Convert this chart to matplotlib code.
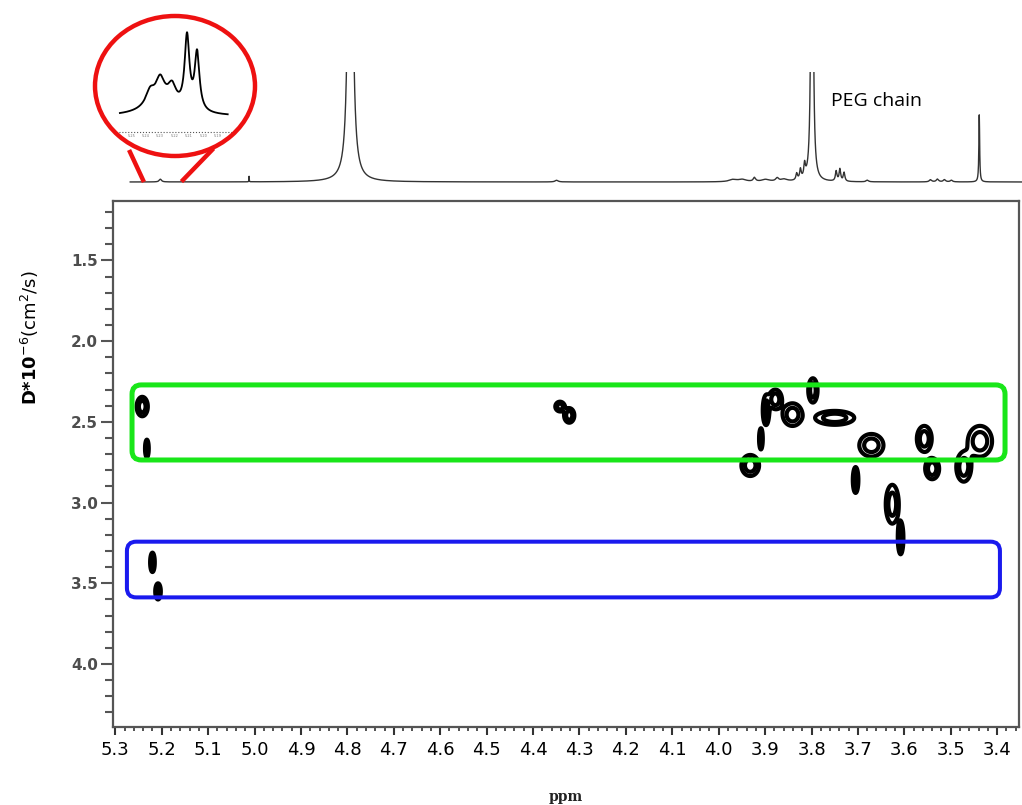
import numpy as np
import matplotlib
matplotlib.use("Agg")
import matplotlib.pyplot as plt
from matplotlib.patches import Ellipse, FancyBboxPatch
from matplotlib.lines import Line2D
from matplotlib.ticker import MultipleLocator, FixedLocator

plt.rcParams['mathtext.fontset'] = 'dejavusans'

# --- 1D proton spectrum (peak list) ---
spec_ppm = [4.794, 3.800, 3.440, 3.833, 3.825, 3.816, 3.748, 3.740, 3.731,
            3.924, 3.970, 3.950, 3.900, 3.875, 3.860, 3.681,
            3.545, 3.530, 3.515, 3.500, 4.350, 5.203, 5.012]
spec_height = [8.0, 8.0, 0.61, 0.06, 0.09, 0.12, 0.09, 0.11, 0.08,
               0.035, 0.02, 0.02, 0.02, 0.03, 0.02, 0.015,
               0.02, 0.025, 0.02, 0.015, 0.015, 0.025, 0.05]
spec_hwhm = [0.0032, 0.0015, 0.001, 0.002, 0.002, 0.002, 0.002, 0.002, 0.002,
             0.003, 0.01, 0.01, 0.01, 0.004, 0.008, 0.003,
             0.003, 0.003, 0.003, 0.003, 0.004, 0.003, 0.0004]

# --- zoomed multiplet near 5.2 ppm (inset) ---
ins_ppm = [5.2113, 5.2043, 5.2300, 5.2217, 5.2370, 5.2300]
ins_height = [0.78, 0.62, 0.22, 0.20, 0.14, 0.16]
ins_hwhm = [0.0020, 0.0020, 0.0035, 0.0035, 0.0035, 0.012]
ins_ticks = [5.25, 5.24, 5.23, 5.22, 5.21, 5.20, 5.19]

# --- DOSY cross peaks: chemical shift, diffusion coefficient, half extents ---
dosy_ppm = [5.242, 5.232, 5.220, 5.208, 4.342, 4.322, 3.909, 3.932, 3.898,
            3.878, 3.841, 3.797, 3.750, 3.671, 3.705, 3.626, 3.608, 3.557,
            3.540, 3.472, 3.437]
dosy_D = [2.405, 2.665, 3.37, 3.55, 2.405, 2.46, 2.605, 2.77, 2.43,
          2.36, 2.455, 2.305, 2.475, 2.645, 2.86, 3.01, 3.22, 2.605,
          2.79, 2.78, 2.62]
dosy_hppm = [0.012, 0.004, 0.005, 0.006, 0.010, 0.011, 0.004, 0.019, 0.007,
             0.014, 0.021, 0.010, 0.042, 0.026, 0.006, 0.014, 0.006, 0.016,
             0.015, 0.016, 0.026]
dosy_hD = [0.06, 0.055, 0.06, 0.05, 0.03, 0.045, 0.065, 0.065, 0.09,
           0.06, 0.07, 0.075, 0.043, 0.07, 0.08, 0.12, 0.10, 0.08,
           0.065, 0.09, 0.095]

x_ticks = [5.3, 5.2, 5.1, 5.0, 4.9, 4.8, 4.7, 4.6, 4.5, 4.4, 4.3, 4.2, 4.1,
           4.0, 3.9, 3.8, 3.7, 3.6, 3.5, 3.4]
y_ticks = [1.5, 2.0, 2.5, 3.0, 3.5, 4.0]

W, H = 1022, 805


def pos(x0, y0, x1, y1):
    return [x0 / W, 1 - y1 / H, (x1 - x0) / W, (y1 - y0) / H]


def lorentz(x, centers, heights, widths):
    y = np.zeros_like(x)
    for c, h, w in zip(centers, heights, widths):
        y += h * w ** 2 / ((x - c) ** 2 + w ** 2)
    return y


fig = plt.figure(figsize=(W / 100, H / 100), dpi=100)

# main DOSY panel
ax = fig.add_axes(pos(113, 200.7, 1018.5, 726.7))
ax.set_xlim(5.305, 3.354)
ax.set_ylim(4.388, 1.13)

gx = np.arange(3.34, 5.31, 0.001)
gy = np.arange(1.1, 4.4, 0.004)
X, Y = np.meshgrid(gx, gy)
Z = np.zeros_like(X)
for c, d, hx, hy in zip(dosy_ppm, dosy_D, dosy_hppm, dosy_hD):
    sx, sy = hx / 1.55, hy / 1.55
    Z += np.exp(-0.5 * (((X - c) / sx) ** 2 + ((Y - d) / sy) ** 2))
ax.contour(X, Y, Z, levels=[0.3, 0.65], colors='black', linewidths=3.0)

aspect = 464.4 / 161.4
green = FancyBboxPatch((3.383, 2.271), 5.264 - 3.383, 2.736 - 2.271,
                       boxstyle="round,pad=0,rounding_size=0.02",
                       mutation_aspect=aspect, fill=False,
                       ec='#19e619', lw=3.6, zorder=5)
blue = FancyBboxPatch((3.394, 3.242), 5.275 - 3.394, 3.587 - 3.242,
                      boxstyle="round,pad=0,rounding_size=0.02",
                      mutation_aspect=aspect, fill=False,
                      ec='#1a1aee', lw=2.9, zorder=5)
ax.add_patch(green)
ax.add_patch(blue)

for s in ['top', 'right', 'bottom', 'left']:
    ax.spines[s].set_color('#555555')
    ax.spines[s].set_linewidth(1.6)

ax.xaxis.set_major_locator(FixedLocator(x_ticks))
ax.xaxis.set_minor_locator(MultipleLocator(0.02))
ax.set_xticklabels([f"{t:.1f}" for t in x_ticks], fontsize=13)
ax.yaxis.set_major_locator(FixedLocator(y_ticks))
ax.yaxis.set_minor_locator(MultipleLocator(0.1))
ax.set_yticklabels([f"{t:.1f}" for t in y_ticks], fontsize=11,
                   fontweight='bold', color='#4d4d4d')
ax.tick_params(axis='x', which='major', direction='out', length=5.5,
               width=1.5, color='#333333', pad=5)
ax.tick_params(axis='x', which='minor', direction='out', length=3,
               width=1.2, color='#333333')
ax.tick_params(axis='y', which='major', direction='out', length=9,
               width=1.5, color='#555555', pad=2)
ax.tick_params(axis='y', which='minor', direction='out', length=5.5,
               width=1.5, color='#555555')

ax.set_xlabel('ppm', fontsize=10, family='DejaVu Serif', fontweight='bold',
              labelpad=22, color='#222222')
ax.set_ylabel(r'$\mathbf{D{*}10}^{-6}$(cm$^{2}$/s)', fontsize=13)
ax.yaxis.set_label_coords(-0.08, 0.74)

# 1D spectrum on top
ax_s = fig.add_axes(pos(113, 72, 1022, 192))
ax_s.set_xlim(5.305, 3.348)
ax_s.set_ylim(-10 / 110, 1.0)
sx = np.arange(3.348, 5.268, 0.0001)
ax_s.plot(sx, lorentz(sx, spec_ppm, spec_height, spec_hwhm),
          color='#333333', lw=1.0)
ax_s.axis('off')
ax_s.text(3.76, 0.74, 'PEG chain', fontsize=14, family='Open Sans',
          ha='left', va='center')

# zoomed inset inside the red circle
ax_i = fig.add_axes(pos(113, 20, 232, 135))
ax_i.set_xlim(5.2628, 5.1800)
ax_i.set_ylim(-0.16, 1.075)
ix = np.arange(5.183, 5.258, 0.00005)
ax_i.plot(ix, lorentz(ix, ins_ppm, ins_height, ins_hwhm) + 0.04,
          color='black', lw=1.3)
ax_i.axhline(-0.13, color='#555555', lw=0.8, ls=':')
for t in ins_ticks:
    ax_i.text(t, -0.15, f"{t:.2f}", fontsize=2.5, color='#777777',
              ha='center', va='top')
ax_i.axis('off')

fig.add_artist(Ellipse((175 / W, 1 - 86 / H), 160 / W, 140 / H,
                       transform=fig.transFigure, fill=False,
                       ec='#ee1111', lw=3.2))
fig.add_artist(Line2D([130 / W, 143 / W], [1 - 152 / H, 1 - 180 / H],
                      transform=fig.transFigure, color='#ee1111', lw=3.2))
fig.add_artist(Line2D([212 / W, 183 / W], [1 - 150 / H, 1 - 180 / H],
                      transform=fig.transFigure, color='#ee1111', lw=3.2))

fig.savefig('out.png', dpi=100)
